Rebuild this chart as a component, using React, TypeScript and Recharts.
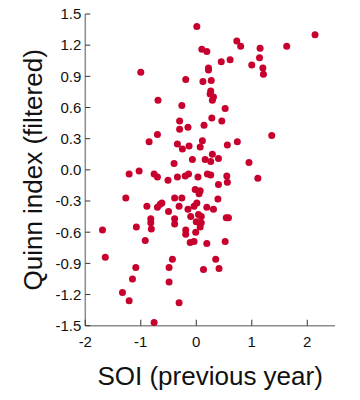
import React from 'react';
import { ScatterChart, Scatter, XAxis, YAxis, Label } from 'recharts';

const soi = [
  0.01, 0.73, 0.80, 1.15, 1.63, 2.14, 0.10, 0.19, 0.45, 0.61,
  1.00, 1.14, 1.20, 1.21, 0.22, 0.22, -0.19, 0.12, 0.27, 0.26,
  0.25, 0.31, 0.29, -0.26, 0.52, 0.28, 0.46, -0.30, -0.30, -0.15,
  0.14, 1.36, 0.11, 0.07, -0.13, -0.25, 0.56, 0.74, -0.07, 0.16,
  0.26, 0.29, 0.40, 0.95, 1.11, -1.00, -0.69, -0.85, -0.70, -0.34,
  -0.40, -1.21, -1.03, -0.76, -0.70, -0.51, -0.34, -0.20, -0.14, 0.03,
  0.20, 0.26, 0.55, 0.56, 0.40, -0.02, 0.07, 0.05, -0.26, 0.39,
  -0.39, -1.27, -0.89, -0.70, -0.65, -0.62, -0.31, -0.50, -0.82, -0.82,
  -0.81, -0.39, -0.39, -1.08, -1.69, -0.92, -1.64, -0.43, -0.49, -1.09,
  -1.15, -0.49, -1.33, -1.21, -0.31, -0.76, -0.15, -0.04, 0.01, 0.19,
  0.31, -0.10, 0.04, 0.09, 0.00, 0.09, 0.07, 0.54, 0.58, -0.19,
  -0.19, -0.01, -0.04, -0.11, 0.19, 0.52, 0.35, 0.13, 0.41,
];

const quinn = [
  1.38, 1.24, 1.19, 1.17, 1.19, 1.30, 1.16, 1.14, 1.04, 1.06,
  1.01, 1.08, 0.98, 0.92, 0.98, 0.96, 0.87, 0.85, 0.86, 0.76,
  0.73, 0.70, 0.67, 0.62, 0.59, 0.50, 0.47, 0.47, 0.39, 0.41,
  0.43, 0.33, 0.28, 0.22, 0.23, 0.20, 0.24, 0.27, 0.10, 0.10,
  0.08, 0.15, 0.11, 0.07, -0.08, 0.94, 0.67, 0.27, 0.34, 0.25,
  0.06, -0.04, -0.01, -0.04, -0.07, -0.10, -0.07, -0.06, -0.04, -0.07,
  -0.04, -0.05, -0.06, -0.12, -0.14, -0.19, -0.20, -0.23, -0.27, -0.28,
  -0.27, -0.27, -0.35, -0.36, -0.33, -0.32, -0.35, -0.40, -0.47, -0.51,
  -0.57, -0.47, -0.52, -0.55, -0.58, -0.68, -0.84, -0.86, -0.94, -0.94,
  -1.05, -1.08, -1.18, -1.26, -1.28, -1.47, -0.38, -0.35, -0.32, -0.36,
  -0.38, -0.45, -0.43, -0.45, -0.50, -0.51, -0.55, -0.46, -0.46, -0.58,
  -0.62, -0.60, -0.69, -0.70, -0.71, -0.69, -0.86, -0.96, -0.95,
];

const xTicks = [-2, -1, 0, 1, 2];
const yTicks = [-1.5, -1.2, -0.9, -0.6, -0.3, 0, 0.3, 0.6, 0.9, 1.2, 1.5];
const xTitle = 'SOI (previous year)';
const yTitle = 'Quinn index (filtered)';

const data = soi.map((s, i) => ({ soi: s, quinn: quinn[i] }));

const FONT = '"Liberation Sans", Arial, Helvetica, sans-serif';
const DOT = '#c8002d';

const XTick = (props: any) => {
  const { x, y, payload } = props;
  return (
    <g>
      <line x1={x} y1={y} x2={x} y2={y - 6} stroke="#333" strokeWidth={1} />
      <text x={x} y={y + 21} textAnchor="middle" fontSize={15} fill="#111" fontFamily={FONT}>
        {String(payload.value)}
      </text>
    </g>
  );
};

const YTick = (props: any) => {
  const { x, y, payload } = props;
  return (
    <g>
      <line x1={x} y1={y} x2={x + 5} y2={y} stroke="#333" strokeWidth={1} />
      <text x={x - 4} y={y} dy="0.355em" textAnchor="end" fontSize={15} fill="#111" fontFamily={FONT}>
        {Number(payload.value).toFixed(1)}
      </text>
    </g>
  );
};

const renderDot = (props: any) => <circle cx={props.cx} cy={props.cy} r={3.5} fill={DOT} />;

export default function App() {
  return (
    <div style={{ margin: '-8px 0 0 -8px', width: 352, height: 392 }}>
      <ScatterChart width={352} height={392} margin={{ top: 14, right: 17, bottom: 6.3, left: 15.3 }}>
        <XAxis
          type="number"
          dataKey="soi"
          domain={[-2, 2.5]}
          ticks={xTicks}
          interval={0}
          tickSize={0}
          tickMargin={0}
          tickLine={false}
          tick={<XTick />}
          axisLine={{ stroke: '#8c8c8c', strokeWidth: 1.5 }}
          height={60}
        >
          <Label
            value={xTitle}
            position="insideBottom"
            offset={1}
            fontSize={26}
            fill="#111"
            fontFamily={FONT}
            style={{ fontSize: 26, fontFamily: FONT, fill: '#111' }}
          />
        </XAxis>
        <YAxis
          type="number"
          dataKey="quinn"
          domain={[-1.5, 1.5]}
          ticks={yTicks}
          interval={0}
          tickSize={0}
          tickMargin={0}
          tickLine={false}
          tick={<YTick />}
          axisLine={{ stroke: '#8c8c8c', strokeWidth: 1.5 }}
          width={70}
        >
          <Label
            value={yTitle}
            angle={-90}
            position="insideLeft"
            offset={17.7}
            textAnchor="middle"
            fontSize={26}
            fill="#111"
            fontFamily={FONT}
            style={{ fontSize: 26, fontFamily: FONT, fill: '#111', textAnchor: 'middle' }}
          />
        </YAxis>
        <Scatter data={data} shape={renderDot} isAnimationActive={false} />
      </ScatterChart>
    </div>
  );
}
